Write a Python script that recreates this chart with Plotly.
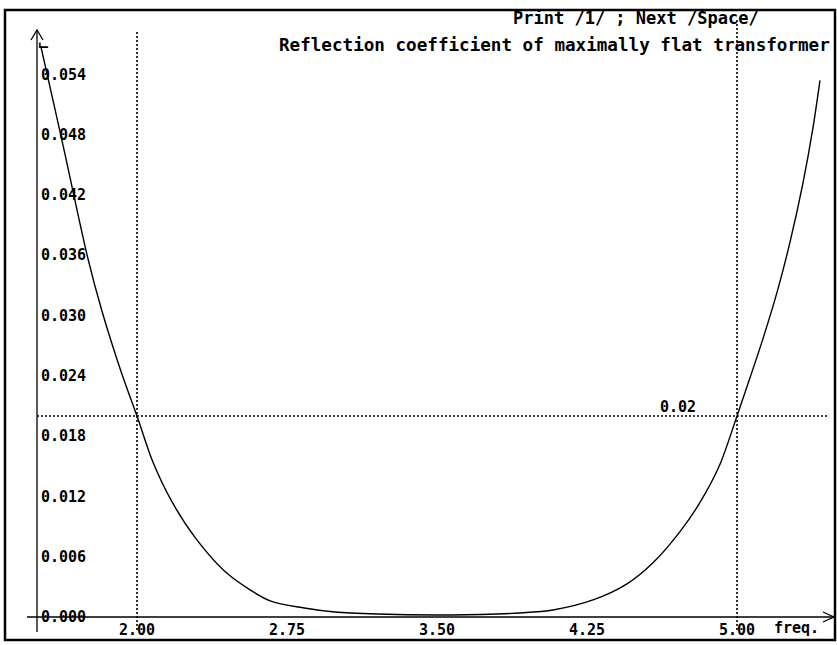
import plotly.graph_objects as go

# ---- data ----
freq = [1.519, 1.589, 1.636, 1.753, 1.824, 1.924, 2.00, 2.078, 2.174, 2.291, 2.453,
        2.666, 2.836, 2.99, 3.2, 3.5, 3.8, 3.915, 4.08, 4.28, 4.45, 4.58, 4.715,
        4.815, 4.915, 5.00, 5.065, 5.13, 5.20, 5.265, 5.33, 5.38, 5.415]
refl = [0.0568, 0.0506, 0.0464, 0.0358, 0.0305, 0.0242, 0.0200, 0.0155, 0.0115, 0.0079, 0.0043,
        0.0016, 0.0009, 0.0005, 0.0003, 0.0002, 0.0003, 0.0004, 0.0007, 0.0017, 0.0033, 0.0054, 0.0085,
        0.0114, 0.0152, 0.0200, 0.0238, 0.0277, 0.0323, 0.0373, 0.0432, 0.0487, 0.0534]
x_ticks = [2.00, 2.75, 3.50, 4.25, 5.00]
y_ticks = [0.000, 0.006, 0.012, 0.018, 0.024, 0.030, 0.036, 0.042, 0.048, 0.054]
band_freqs = [2.00, 5.00]
ref_level = 0.02
title_line1 = "Print /1/ ; Next /Space/"
title_line2 = "Reflection coefficient of maximally flat transformer"
x_label = "freq."
y_label = "\u0393"
x_axis_start = 1.5

# ---- geometry ----
W, H = 837, 645
ML, MR, MT, MB = 27, 2, 0, 13
PW, PH = W - ML - MR, H - MT - MB
PX_PER_F = 200.0
F0 = 2.0 - (137 - ML) / PX_PER_F
F1 = F0 + PW / PX_PER_F
K = 0.006 / 60.3  # value per pixel
AXIS_PY = 617
V0 = -(MT + PH - AXIS_PY) * K
V1 = (AXIS_PY - MT) * K


def pxp(px):
    return (px - ML) / PW


def pyp(py):
    return (MT + PH - py) / PH


def f_of(px):
    return F0 + (px - ML) / PX_PER_F


def v_of(py):
    return V0 + (MT + PH - py) * K


FONT = "DejaVu Sans Mono"
BLACK = "#000000"

fig = go.Figure()
fig.add_trace(go.Scatter(x=freq, y=refl, mode="lines",
                         line=dict(color=BLACK, width=1.4, shape="spline", smoothing=0.8),
                         hoverinfo="skip", showlegend=False))

shapes = []
dot = "2px,2px"
tops = {2.00: 32, 5.00: 20}
for f in band_freqs:
    shapes.append(dict(type="line", xref="x", yref="y", x0=f, x1=f, y0=v_of(tops.get(f, 30)), y1=v_of(632),
                       line=dict(color=BLACK, width=1.6, dash=dot)))
shapes.append(dict(type="line", xref="x", yref="y", x0=x_axis_start, x1=f_of(828), y0=ref_level, y1=ref_level,
                   line=dict(color=BLACK, width=1.6, dash=dot)))
# axis lines
shapes.append(dict(type="line", xref="x", yref="y", x0=x_axis_start, x1=x_axis_start, y0=v_of(632), y1=v_of(30),
                   line=dict(color=BLACK, width=1.3)))
shapes.append(dict(type="line", xref="x", yref="y", x0=F0, x1=F1, y0=0, y1=0,
                   line=dict(color=BLACK, width=1.3)))
# arrowheads
ax_px = ML + (x_axis_start - F0) * PX_PER_F
shapes.append(dict(type="path", xref="paper", yref="paper",
                   path=f"M {pxp(ax_px-6)} {pyp(40)} L {pxp(ax_px)} {pyp(30)} L {pxp(ax_px+6)} {pyp(40)}",
                   line=dict(color=BLACK, width=1.3)))
shapes.append(dict(type="path", xref="paper", yref="paper",
                   path=f"M {pxp(823)} {pyp(AXIS_PY-5)} L {pxp(834)} {pyp(AXIS_PY)} L {pxp(823)} {pyp(AXIS_PY+5)}",
                   line=dict(color=BLACK, width=1.3)))
# outer frame
shapes.append(dict(type="rect", xref="paper", yref="paper", x0=pxp(5), x1=pxp(835), y0=pyp(640), y1=pyp(10),
                   line=dict(color=BLACK, width=2.5)))

annotations = [
    dict(text=title_line1, xref="paper", yref="paper", x=pxp(636), y=pyp(18), showarrow=False,
         xanchor="center", yanchor="middle", font=dict(family=FONT, size=17, color=BLACK, weight="bold")),
    dict(text=title_line2, xref="paper", yref="paper", x=pxp(832), y=pyp(45), showarrow=False,
         xanchor="right", yanchor="middle", font=dict(family=FONT, size=17.6, color=BLACK, weight="bold")),
    dict(text=f"{ref_level:.2f}", xref="x", yref="y", x=f_of(678), y=ref_level, yshift=9, showarrow=False,
         xanchor="center", yanchor="middle", font=dict(family=FONT, size=15, color=BLACK, weight="bold")),
    dict(text=x_label, xref="paper", yref="paper", x=pxp(796), y=pyp(628), showarrow=False,
         xanchor="center", yanchor="middle", font=dict(family=FONT, size=15, color=BLACK, weight="bold")),
    dict(text=y_label, xref="paper", yref="paper", x=pxp(44), y=pyp(46), showarrow=False, textangle=-90,
         xanchor="center", yanchor="middle", font=dict(family=FONT, size=12, color=BLACK, weight="bold")),
]

fig.update_layout(
    width=W, height=H, margin=dict(l=ML, r=MR, t=MT, b=MB, pad=0),
    paper_bgcolor="white", plot_bgcolor="white", showlegend=False,
    xaxis=dict(range=[F0, F1], anchor="free", position=(MT + PH - AXIS_PY) / PH, side="bottom",
               tickvals=x_ticks, ticktext=[f"{v:.2f}" for v in x_ticks], ticks="", showgrid=False,
               zeroline=False, showline=False, ticklabelstandoff=2,
               tickfont=dict(family=FONT, size=15, color=BLACK, weight="bold")),
    yaxis=dict(range=[V0, V1], anchor="free", position=pxp(ax_px), side="right",
               tickvals=y_ticks, ticktext=[f"{v:.3f}" for v in y_ticks], ticks="", showgrid=False,
               zeroline=False, showline=False, ticklabelstandoff=3,
               tickfont=dict(family=FONT, size=15, color=BLACK, weight="bold")),
    shapes=shapes, annotations=annotations,
)

fig.write_html("out.html", config={"displayModeBar": False})
